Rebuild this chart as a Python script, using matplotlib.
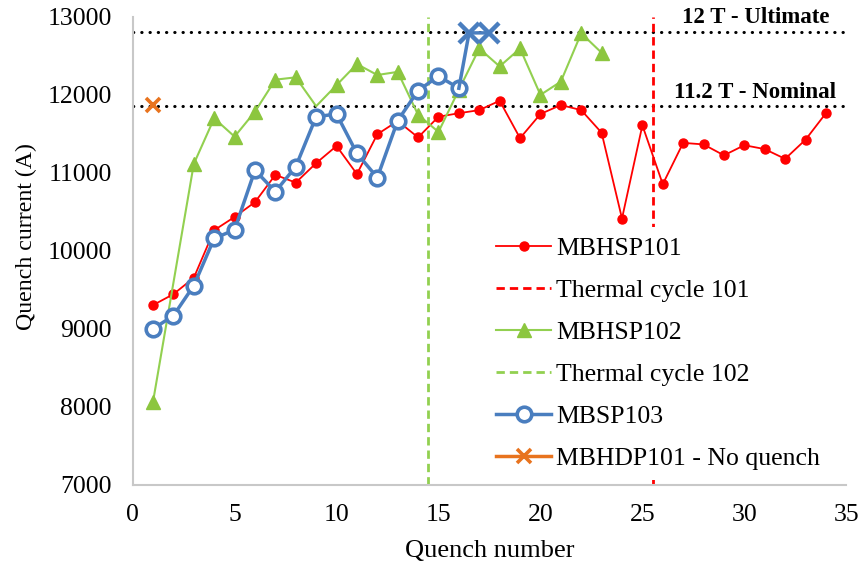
import numpy as np
import matplotlib.pyplot as plt

plt.rcParams['font.family'] = ['Liberation Serif', 'DejaVu Serif']

# MBHSP101 quenches
x101 = list(range(1, 35))
y101 = [9300, 9440, 9650, 10260, 10430, 10620, 10970, 10870, 11120, 11340,
        10980, 11490, 11660, 11450, 11715, 11760, 11800, 11920, 11440, 11750,
        11865, 11800, 11510, 10410, 11605, 10850, 11380, 11360, 11220, 11350,
        11300, 11175, 11420, 11760]

# MBHSP102 quenches
x102 = [1] + list(range(3, 24))
y102 = [8060, 11110, 11695, 11460, 11780, 12190, 12220, 11850, 12120, 12390,
        12250, 12290, 11740, 11520, 12060, 12590, 12360, 12590, 11995, 12165,
        12785, 12535]
no_marker_102 = [9]

# MBSP103 quenches, last two reached the ultimate limit
x103 = list(range(1, 17))
y103 = [8995, 9165, 9550, 10155, 10265, 11030, 10755, 11075, 11715, 11750,
        11245, 10935, 11665, 12050, 12235, 12080]
x103_lim = [16.5, 17.5]
y103_lim = [12790, 12790]

# MBHDP101 - no quench
xdp = [1]
ydp = [11870]

tc101 = 25.5
tc102 = 14.5
ultimate = 12800
nominal = 11850

red = '#FF0000'
green = '#92D050'
blue = '#4A7EBF'
orange = '#E8731E'

fig = plt.figure(figsize=(8.64, 5.69), dpi=100)
ax = fig.add_axes([0.1535, 0.1485, 0.826, 0.8225])

ax.axhline(ultimate, color='black', lw=2.2, linestyle=(0, (0.1, 2.6)),
           dash_capstyle='round', zorder=1)
ax.axhline(nominal, color='black', lw=2.2, linestyle=(0, (0.1, 2.6)),
           dash_capstyle='round', zorder=1)

ax.plot(x101, y101, color=red, lw=1.3, marker='o', ms=6.5, label='MBHSP101', zorder=3)
ax.axvline(tc101, color=red, lw=2, linestyle=(0, (3, 1.8)), label='Thermal cycle 101', zorder=2)
mk = [i for i, x in enumerate(x102) if x not in no_marker_102]
ax.plot(x102, y102, color=green, lw=1.5, marker='^', ms=9.5, mfc='#8CC63F', mec='#8CC63F',
        markevery=mk, label='MBHSP102', zorder=4)
ax.axvline(tc102, color=green, lw=2, linestyle=(0, (3, 1.8)), label='Thermal cycle 102', zorder=2)
ax.plot(x103, y103, color=blue, lw=2.5, marker='o', ms=10.5, mfc='white', mec=blue,
        mew=2.6, label='MBSP103', zorder=5)
ax.plot([x103[-1]] + x103_lim, [y103[-1]] + y103_lim, color=blue, lw=2.5, zorder=5)
ax.plot(x103_lim, y103_lim, ls='none', marker='x', ms=15, mec=blue, mew=3.2, zorder=6)
ax.plot(xdp, ydp, ls='none', marker='x', ms=10, mec=orange, mew=2.6, zorder=6)
ax.plot([], [], color=orange, lw=2.5, marker='x', ms=10, mew=2.6, label='MBHDP101 - No quench')

ax.text(34.2, 12917, '12 T - Ultimate', ha='right', va='baseline', fontsize=16.5, fontweight='bold')
ax.text(34.5, 11955, '11.2 T - Nominal', ha='right', va='baseline', fontsize=16.5, fontweight='bold')

ax.set_xlim(0, 35)
ax.set_ylim(7000, 13000)
ax.set_xticks(np.arange(0, 36, 5))
ax.set_yticks(np.arange(7000, 13001, 1000))
ax.tick_params(length=0, labelsize=18.5)
ax.tick_params(axis='y', pad=15)
ax.tick_params(axis='x', pad=14)
ax.set_xlabel('Quench number', fontsize=19, labelpad=10)
ax.set_ylabel('Quench current (A)', fontsize=17.2)
ax.yaxis.set_label_coords(-0.134, 0.529)
for s in ['top', 'right']:
    ax.spines[s].set_visible(False)
for s in ['left', 'bottom']:
    ax.spines[s].set_color('#C8C8C8')
    ax.spines[s].set_linewidth(1.5)

leg = ax.legend(loc='upper left', bbox_to_anchor=(0.477, 0.578), fontsize=18.5,
                handlelength=2.14, labelspacing=0.74, borderpad=0.4,
                handletextpad=0.2, frameon=True, framealpha=1,
                facecolor='white', edgecolor='none', fancybox=False)
leg.set_zorder(10)

plt.savefig('out.png', dpi=100)
